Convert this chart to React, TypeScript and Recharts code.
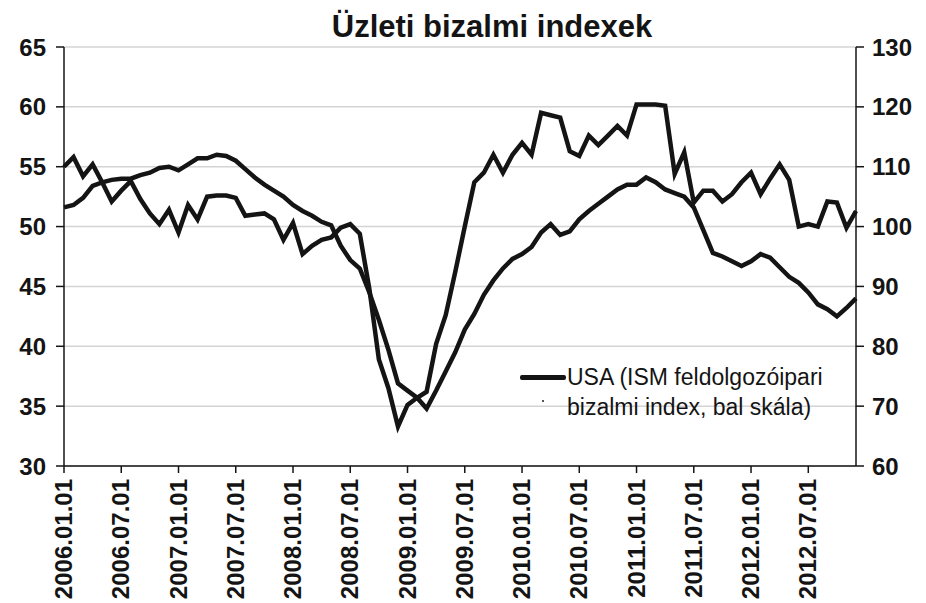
import { LineChart, Line, XAxis, YAxis, CartesianGrid } from 'recharts';

// havi adatok 2006.01 - 2012.12
const years = [2006, 2007, 2008, 2009, 2010, 2011, 2012];
const months = ['01', '02', '03', '04', '05', '06', '07', '08', '09', '10', '11', '12'];
const dates = years.flatMap((y) => months.map((m) => `${y}.${m}.01`));

// USA ISM feldolgozóipari index (bal skála)
const usaIsm = [
  55.0, 55.8, 54.2, 55.2, 53.7, 52.1, 53.0, 53.8, 52.3, 51.1, 50.2, 51.4,
  49.5, 51.8, 50.6, 52.5, 52.6, 52.6, 52.4, 50.9, 51.0, 51.1, 50.6, 48.9,
  50.3, 47.7, 48.4, 48.9, 49.1, 49.9, 50.2, 49.4, 44.8, 38.9, 36.5, 33.3,
  35.1, 35.7, 36.2, 40.2, 42.6, 46.2, 50.0, 53.7, 54.5, 56.0, 54.5, 56.0,
  57.0, 56.0, 59.5, 59.3, 59.1, 56.3, 55.9, 57.6, 56.8, 57.6, 58.4, 57.6,
  60.2, 60.2, 60.2, 60.1, 54.4, 56.2, 52.0, 53.0, 53.0, 52.1, 52.7, 53.7,
  54.5, 52.7, 54.0, 55.2, 53.9, 50.0, 50.2, 50.0, 52.1, 52.0, 49.9, 51.3,
];

// második index (jobb skála)
const rightIndex = [
  103.2, 103.6, 104.8, 106.8, 107.4, 107.8, 108.0, 108.0, 108.6, 109.0, 109.8, 110.0,
  109.4, 110.4, 111.4, 111.4, 112.0, 111.8, 111.0, 109.6, 108.2, 107.0, 106.0, 105.0,
  103.6, 102.6, 101.8, 100.8, 100.2, 96.8, 94.4, 93.0, 89.0, 84.4, 79.4, 73.8,
  72.6, 71.4, 69.6, 72.6, 75.8, 79.0, 82.8, 85.4, 88.6, 91.0, 93.0, 94.6,
  95.4, 96.6, 99.0, 100.4, 98.6, 99.2, 101.2, 102.6, 103.8, 105.0, 106.2, 107.0,
  107.0, 108.2, 107.4, 106.2, 105.6, 105.0, 103.2, 99.4, 95.6, 95.0, 94.2, 93.4,
  94.2, 95.4, 94.8, 93.2, 91.6, 90.6, 89.0, 87.0, 86.2, 85.0, 86.4, 88.0,
];

const leftTicks = [30, 35, 40, 45, 50, 55, 60, 65];
const rightTicks = [60, 70, 80, 90, 100, 110, 120, 130];

const data = dates.map((d, i) => ({ date: d, usa: usaIsm[i], other: rightIndex[i] }));

const font = "'Liberation Sans', Arial, sans-serif";
const ink = '#141414';

function DateTick({ x, y, payload }: any) {
  return (
    <g transform={`translate(${x},${y})`}>
      <text
        transform="rotate(-90)"
        x={-4}
        y={0}
        dy={8}
        textAnchor="end"
        fontFamily={font}
        fontWeight="bold"
        fontSize={24}
        fill={ink}
      >
        {payload.value}
      </text>
    </g>
  );
}

const axisTick = { fontFamily: font, fontWeight: 'bold', fontSize: 24, fill: ink };

export default function App() {
  return (
    <div style={{ position: 'absolute', left: 0, top: 0, width: 926, height: 603, background: '#fff' }}>
      <LineChart width={926} height={603} data={data} margin={{ top: 47, right: 0, bottom: 0, left: 0 }}>
        <CartesianGrid yAxisId="left" vertical={false} stroke="#d4d4d4" strokeWidth={1.5} />
        <XAxis
          dataKey="date"
          interval={5}
          height={137}
          tick={<DateTick />}
          tickSize={7}
          stroke={ink}
          strokeWidth={1.5}
        />
        <YAxis
          yAxisId="left"
          domain={[30, 65]}
          ticks={leftTicks}
          width={64}
          tickSize={8}
          tickMargin={10}
          tick={axisTick}
          stroke={ink}
          strokeWidth={1.5}
          allowDataOverflow
        />
        <YAxis
          yAxisId="right"
          orientation="right"
          domain={[60, 130]}
          ticks={rightTicks}
          width={70}
          tickSize={8}
          tickMargin={8}
          tick={{ ...axisTick, textAnchor: 'start' }}
          stroke={ink}
          strokeWidth={1.5}
          allowDataOverflow
        />
        <Line
          yAxisId="right"
          dataKey="other"
          type="linear"
          stroke={ink}
          strokeWidth={4.5}
          dot={false}
          isAnimationActive={false}
        />
        <Line
          yAxisId="left"
          dataKey="usa"
          type="linear"
          stroke={ink}
          strokeWidth={4.5}
          dot={false}
          isAnimationActive={false}
        />
      </LineChart>

      <div
        style={{
          position: 'absolute',
          left: 242,
          top: 9,
          width: 500,
          textAlign: 'center',
          fontFamily: font,
          fontWeight: 'bold',
          fontSize: 31,
          lineHeight: '36px',
          color: ink,
        }}
      >
        Üzleti bizalmi indexek
      </div>

      <div style={{ position: 'absolute', left: 520, top: 375, width: 46, height: 5, background: ink, borderRadius: 2 }} />
      <div style={{ position: 'absolute', left: 542, top: 400, width: 2, height: 2, background: '#555' }} />
      <div
        style={{
          position: 'absolute',
          left: 567,
          top: 362,
          fontFamily: font,
          fontSize: 23,
          lineHeight: '30px',
          color: ink,
          whiteSpace: 'nowrap',
        }}
      >
        USA (ISM feldolgozóipari
        <br />
        bizalmi index, bal skála)
      </div>
    </div>
  );
}
